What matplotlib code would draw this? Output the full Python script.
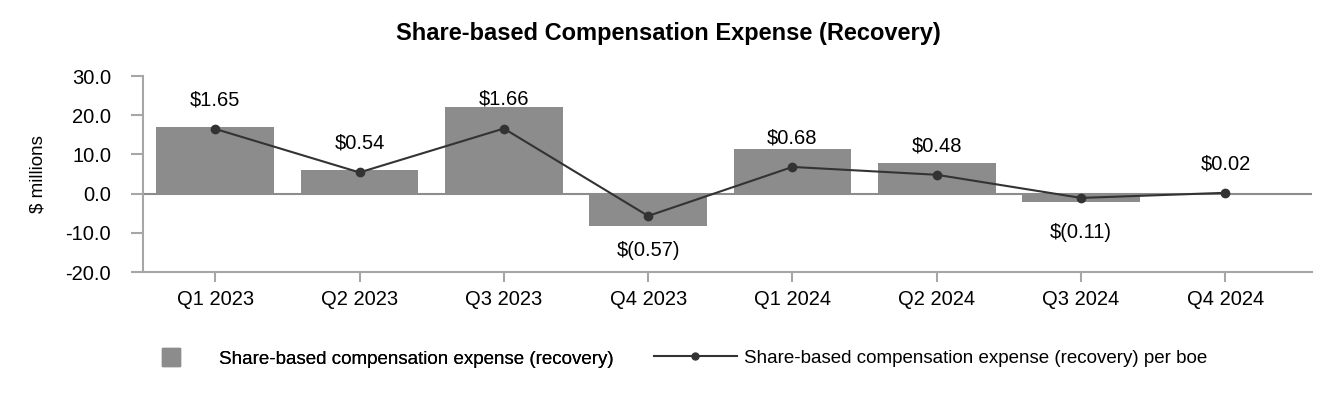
import matplotlib
matplotlib.use("Agg")
import matplotlib.pyplot as plt
from matplotlib.patches import Patch
from matplotlib.lines import Line2D

plt.rcParams['font.family'] = ['Liberation Sans', 'DejaVu Sans']

categories = ["Q1 2023", "Q2 2023", "Q3 2023", "Q4 2023", "Q1 2024", "Q2 2024", "Q3 2024", "Q4 2024"]
expense_millions = [17.0, 5.9, 22.1, -8.3, 11.5, 7.9, -2.1, 0.2]
per_boe = [1.65, 0.54, 1.66, -0.57, 0.68, 0.48, -0.11, 0.02]
per_boe_labels = ["$1.65", "$0.54", "$1.66", "$(0.57)", "$0.68", "$0.48", "$(0.11)", "$0.02"]
y_ticks = [-20, -10, 0, 10, 20, 30]

bar_color = "#8c8c8c"
line_color = "#333333"
axis_color = "#a6a6a6"

fig = plt.figure(figsize=(13.32, 4.0), dpi=100)
ax = fig.add_axes([0.1074, 0.32, 0.8776, 0.49])

x = list(range(len(categories)))
ax.bar(x, expense_millions, width=0.815, color=bar_color, zorder=2)
ax.axhline(0, color="#8c8c8c", lw=1.5, zorder=1)
ax.set_xlim(-0.5, 7.6)
ax.set_ylim(-20, 30)
ax.set_yticks(y_ticks)
ax.set_yticklabels([f"{v:.1f}" for v in y_ticks])
ax.set_xticks(x)
ax.set_xticklabels(categories)
for s in ["top", "right"]:
    ax.spines[s].set_visible(False)
for s in ["left", "bottom"]:
    ax.spines[s].set_color(axis_color)
    ax.spines[s].set_linewidth(1.5)
ax.tick_params(axis="both", colors=axis_color, labelcolor="#000000", labelsize=14.5,
               width=1.5)
ax.tick_params(axis="x", length=7, pad=6)
ax.tick_params(axis="y", length=9, pad=14)
ax.set_ylabel("$ millions", fontsize=13.5, labelpad=14)

ax2 = ax.twinx()
ax2.set_ylim(-2.0, 3.0)
ax2.axis("off")
ax2.plot(x, per_boe, color=line_color, lw=1.5, marker="o", markersize=6, zorder=3)
for xi, v, lab in zip(x, per_boe, per_boe_labels):
    if v >= 0:
        ax2.annotate(lab, (xi, v), xytext=(0, 21), textcoords="offset points",
                     ha="center", va="center", fontsize=14.5)
    else:
        ax2.annotate(lab, (xi, v), xytext=(0, -25), textcoords="offset points",
                     ha="center", va="center", fontsize=14.5)

fig.text(0.5015, 0.917, "Share-based Compensation Expense (Recovery)", ha="center",
         va="center", fontsize=17, fontweight="bold")

leg1 = fig.legend(handles=[Patch(color=bar_color, label="Share-based compensation expense (recovery)")],
                  loc="center left", bbox_to_anchor=(0.1216, 0.105), frameon=False,
                  fontsize=13.5, handlelength=0.95, handleheight=1.1, handletextpad=2.1,
                  borderpad=0, borderaxespad=0)
leg2 = fig.legend(handles=[Line2D([0], [0], color=line_color, lw=1.5, marker="o", markersize=5,
                                  label="Share-based compensation expense (recovery) per boe")],
                  loc="center left", bbox_to_anchor=(0.491, 0.105), frameon=False,
                  fontsize=13.5, handlelength=4.4, handletextpad=0.4,
                  borderpad=0, borderaxespad=0)
fig.add_artist(leg1)

fig.savefig("out.png", dpi=100)
